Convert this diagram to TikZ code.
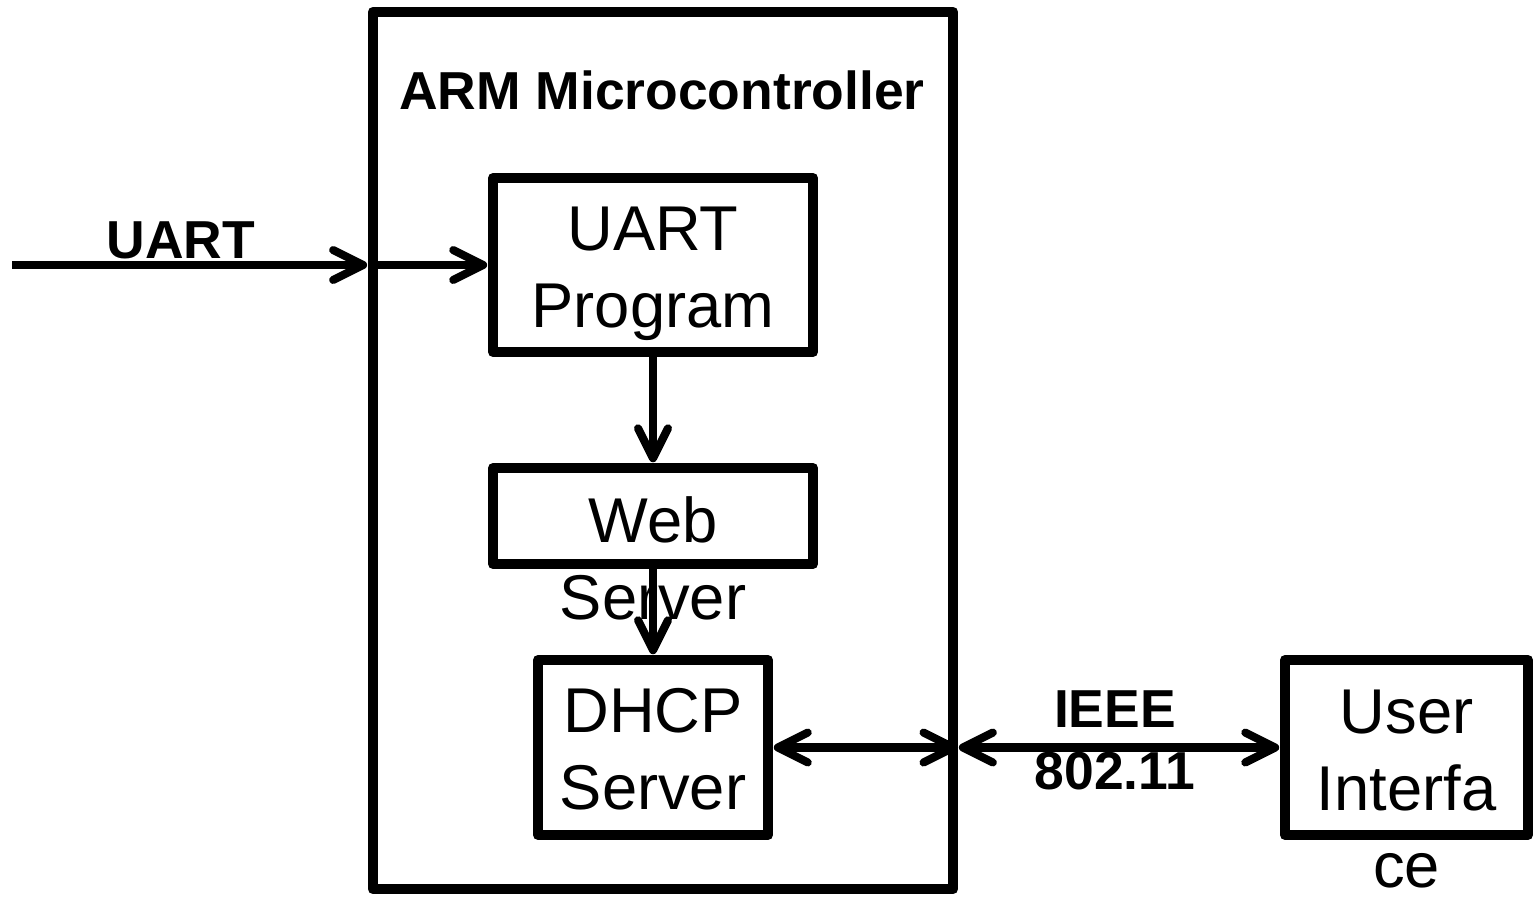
\documentclass[tikz,border=0pt]{standalone}
\usepackage{fontspec}
\setmainfont{Liberation Sans}
\usetikzlibrary{arrows.meta,calc}

\begin{document}
\begin{tikzpicture}[x=0.01cm, y=-0.01cm,
  blk/.style={draw, line width=2.85pt, line join=round, inner sep=0pt},
  lbl/.style={font=\fontsize{15.2}{17.6}\selectfont\bfseries, align=center, inner sep=0pt},
  boxtext/.style={font=\fontsize{18}{21.9}\selectfont, align=center, anchor=north, inner sep=0pt},
  tip/.style={Straight Barb[length=8.5pt,width=8.5pt,round]},
  arr/.style={line width=2.3pt, -{Straight Barb[length=8.5pt,width=8.5pt,round]}, shorten >=0.2pt},
  darr/.style={line width=2.3pt, {Straight Barb[length=8.5pt,width=8.5pt,round]}-{Straight Barb[length=8.5pt,width=8.5pt,round]}, shorten >=0.2pt, shorten <=0.2pt}
]
\useasboundingbox (0,0) rectangle (1533,896);

% microcontroller frame and its blocks
\node[blk, minimum width=5.80cm, minimum height=8.77cm] (arm) at (663,450.5) {};
\node[lbl] (armtitle) at (662,90) {ARM Microcontroller};

\node[blk, minimum width=3.20cm, minimum height=1.74cm] (prog) at (653,265) {};
\node[blk, minimum width=3.20cm, minimum height=0.96cm] (web) at (653,516) {};
\node[blk, minimum width=2.30cm, minimum height=1.75cm] (dhcp) at (653,747.5) {};
\node[blk, minimum width=2.43cm, minimum height=1.75cm] (ui) at (1406.5,747.5) {};

% block texts, first line set near the top of each block
\node[boxtext] (progtxt) at ($(prog.north)+(0,33)$) {UART\\Program};
\node[boxtext] (webtxt) at ($(web.north)+(0,33)$) {Web\\Server};
\node[boxtext] (dhcptxt) at ($(dhcp.north)+(0,33)$) {DHCP\\Server};
\node[boxtext] (uitxt) at ($(ui.north)+(0,34)$) {User\\Interfa\\ce};

% serial input
\coordinate (in) at (12,265);
\coordinate (armin) at (in -| arm.west);
\draw[arr] (in) -- (armin);
\draw[arr] (armin) -- (prog.west);
\node[lbl] (uartlbl) at (181,240) {UART};

% internal flow
\draw[arr] (prog.south) -- (web.north);
\draw[arr] (web.south) -- (dhcp.north);

% wireless link
\coordinate (armout) at (dhcp.east -| arm.east);
\draw[darr] (dhcp.east) -- (armout);
\draw[darr] (armout) -- (ui.west);
\node[lbl] (ieee) at (1115,740) {IEEE\\802.11};
\end{tikzpicture}
\end{document}
